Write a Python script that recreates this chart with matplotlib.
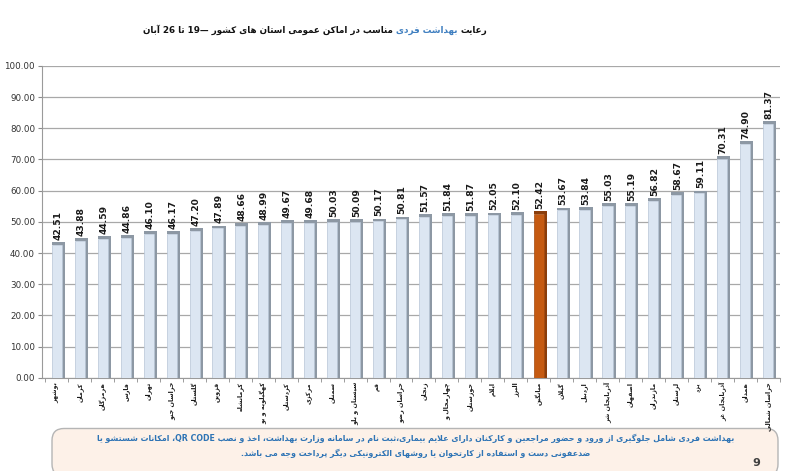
import re
import numpy as np
import matplotlib
matplotlib.use("Agg")
import matplotlib.pyplot as plt
from matplotlib.patches import FancyBboxPatch

# ---------------------------------------------------------------
# minimal Persian shaping + RTL reordering (matplotlib has none)
# ---------------------------------------------------------------
DUAL = {'ب': 0xFE8F, 'ت': 0xFE95, 'ث': 0xFE99, 'ج': 0xFE9D, 'ح': 0xFEA1,
        'خ': 0xFEA5, 'س': 0xFEB1, 'ش': 0xFEB5, 'ص': 0xFEB9, 'ض': 0xFEBD,
        'ط': 0xFEC1, 'ظ': 0xFEC5, 'ع': 0xFEC9, 'غ': 0xFECD, 'ف': 0xFED1,
        'ق': 0xFED5, 'ل': 0xFEDD, 'م': 0xFEE1, 'ن': 0xFEE5, 'ه': 0xFEE9,
        'ئ': 0xFE89, 'پ': 0xFB56, 'چ': 0xFB7A, 'ک': 0xFB8E, 'گ': 0xFB92,
        'ی': 0xFBFC}
RIGHT = {'ا': 0xFE8D, 'آ': 0xFE81, 'أ': 0xFE83, 'د': 0xFEA9, 'ذ': 0xFEAB,
         'ر': 0xFEAD, 'ز': 0xFEAF, 'ژ': 0xFB8A, 'و': 0xFEED}


def shape(s):
    out = []
    i, n = 0, len(s)
    while i < n:
        c = s[i]
        prev_j = i > 0 and s[i - 1] in DUAL
        if c == 'ل' and i + 1 < n and s[i + 1] in ('ا', 'آ'):
            base = 0xFEFB if s[i + 1] == 'ا' else 0xFEF5
            out.append(chr(base + (1 if prev_j else 0)))
            i += 2
            continue
        next_j = i + 1 < n and (s[i + 1] in DUAL or s[i + 1] in RIGHT)
        if c in DUAL:
            b = DUAL[c]
            if prev_j and next_j:
                f = b + 3
            elif prev_j:
                f = b + 1
            elif next_j:
                f = b + 2
            else:
                f = b
            out.append(chr(f))
        elif c in RIGHT:
            out.append(chr(RIGHT[c] + (1 if prev_j else 0)))
        else:
            out.append(c)
        i += 1
    return ''.join(out)


def fa(s):
    toks = re.findall(r'[A-Za-z0-9][A-Za-z0-9 .]*[A-Za-z0-9]|[A-Za-z0-9]|.', shape(s))
    return ''.join(reversed(toks))


# ---------------------------------------------------------------
# data
# ---------------------------------------------------------------
provinces = ['بوشهر', 'کرمان', 'هرمزگان', 'فارس', 'تهران', 'خراسان جنو',
             'گلستان', 'قزوین', 'کرمانشاه', 'کهگیلویه و بو', 'کردستان',
             'مرکزی', 'سمنان', 'سیستان و بلو', 'قم', 'خراسان رضو', 'زنجان',
             'چهارمحال و', 'خوزستان', 'ایلام', 'البرز', 'میانگین', 'گیلان',
             'اردبیل', 'آذربایجان شر', 'اصفهان', 'مازندران', 'لرستان', 'یزد',
             'آذربایجان غر', 'همدان', 'خراسان شمالی']
values = [42.51, 43.88, 44.59, 44.86, 46.10, 46.17, 47.20, 47.89, 48.66,
          48.99, 49.67, 49.68, 50.03, 50.09, 50.17, 50.81, 51.57, 51.84,
          51.87, 52.05, 52.10, 52.42, 53.67, 53.84, 55.03, 55.19, 56.82,
          58.67, 59.11, 70.31, 74.90, 81.37]
highlight = 'میانگین'
yticks = np.arange(0, 101, 10)

title_a = 'رعایت '
title_b = 'بهداشت فردی'
title_c = ' مناسب در اماکن عمومی استان های کشور —19 تا 26 آبان'
note_1 = ('بهداشت فردی شامل جلوگیری از ورود و حضور مراجعین و کارکنان دارای '
          'علایم بیماری،ثبت نام در سامانه وزارت بهداشت، اخذ و نصب QR CODE، '
          'امکانات شستشو یا')
note_2 = 'ضدعفونی دست و استفاده از کارتخوان یا روشهای الکترونیکی دیگر پرداخت وجه می باشد.'

# ---------------------------------------------------------------
# plot
# ---------------------------------------------------------------
plt.rcParams['font.family'] = ['DejaVu Sans']

fig = plt.figure(figsize=(8, 4.71), dpi=100)
ax = fig.add_axes([0.0525, 0.198, 0.9225, 0.662])

x = np.arange(len(values))
front = ['#c55a11' if p == highlight else '#dce6f2' for p in provinces]
side = ['#8a3d0b' if p == highlight else '#8d98a4' for p in provinces]
edge = ['#a34a0e' if p == highlight else '#b7c5d6' for p in provinces]
w, sw = 0.44, 0.13

ax.bar(x + w / 2 + sw / 2, values, width=sw, color=side, zorder=2)
ax.bar(x + sw / 2, 0.9, bottom=values, width=w + sw, color=side, zorder=2)
ax.bar(x, values, width=w, color=front, edgecolor=edge, linewidth=0.5, zorder=3)

for xi, v in zip(x, values):
    ax.text(xi + 0.05, v + 1.6, f'{v:.2f}', rotation=90, ha='center',
            va='bottom', fontsize=6.6, fontweight='bold', color='#1a1a1a')

ax.set_xlim(-0.65, len(values) - 0.48)
ax.set_ylim(0, 100)
ax.set_yticks(yticks)
ax.set_yticklabels([f'{t:.2f}' for t in yticks], fontsize=6.3, color='#333333')
ax.yaxis.grid(True, color='#a8a8a8', linewidth=0.9, zorder=0)
ax.set_axisbelow(True)

ax.set_xticks(x)
ax.set_xticklabels([fa(p) for p in provinces], rotation=90, fontsize=4.6,
                   fontweight='bold', va='top', ha='center', color='#1a1a1a')
ax.set_xticks(np.arange(-0.5, len(values), 1), minor=True)
ax.tick_params(axis='x', which='major', length=0, pad=3)
ax.tick_params(axis='x', which='minor', length=3, color='#8c8c8c')
ax.tick_params(axis='y', length=3, color='#8c8c8c', pad=2)

for s in ['top', 'right']:
    ax.spines[s].set_visible(False)
ax.spines['left'].set_color('#9a9a9a')
ax.spines['bottom'].set_color('#9a9a9a')

# title in three colour pieces, right to left
renderer = fig.canvas.get_renderer()
xr = 0.609
for part, col in [(title_a, '#111111'), (title_b, '#3f7fc0'), (title_c, '#111111')]:
    t = fig.text(xr, 0.936, fa(part.strip()), ha='right', va='center',
                 fontsize=6.3, fontweight='bold', color=col)
    bb = t.get_window_extent(renderer).transformed(fig.transFigure.inverted())
    xr = bb.x0 - 0.004

# note box
box = FancyBboxPatch((0.52, -0.05), 7.26, 0.475,
                     boxstyle='round,pad=0,rounding_size=0.12',
                     transform=fig.dpi_scale_trans, facecolor='#fdf1e8',
                     edgecolor='#b5b5b5', linewidth=1.0, clip_on=False,
                     zorder=-1)
fig.add_artist(box)
fig.text(0.519, 0.069, fa(note_1), ha='center', va='center', fontsize=5.7,
         fontweight='bold', color='#2e74b5')
fig.text(0.519, 0.037, fa(note_2), ha='center', va='center', fontsize=5.7,
         fontweight='bold', color='#2e74b5')
fig.text(0.946, 0.018, '9', ha='center', va='center', fontsize=8,
         fontweight='bold', color='#404040')

fig.savefig('out.png', dpi=100)
